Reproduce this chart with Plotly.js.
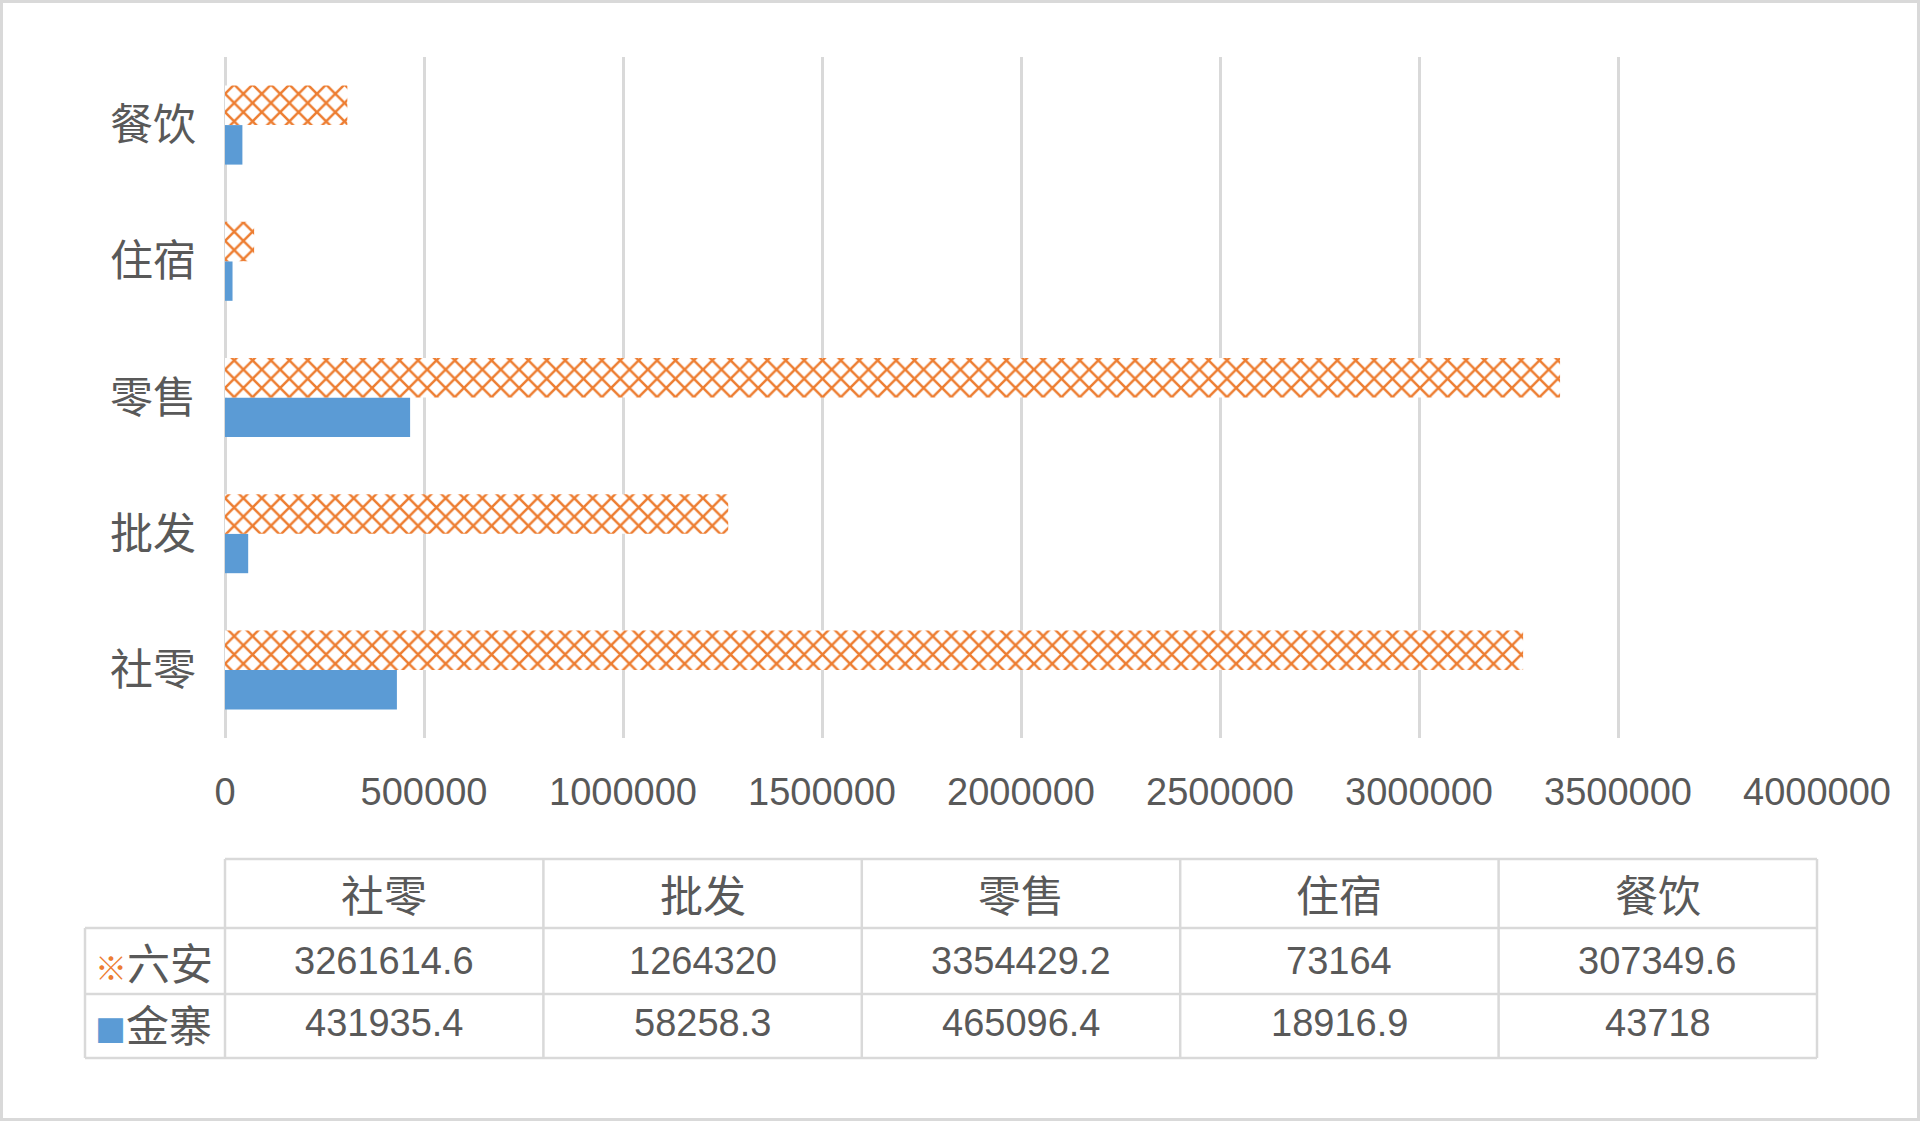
<!DOCTYPE html>
<html>
<head>
<meta charset="utf-8">
<script src="https://cdn.plot.ly/plotly-3.0.1.min.js"></script>
<style>
  html, body { margin: 0; padding: 0; background: #fff; }
  #chart { width: 1920px; height: 1121px; }
</style>
</head>
<body>
<div id="chart"></div>
<script>
'use strict';

/* ---------- data ---------- */
var categories = ['社零', '批发', '零售', '住宿', '餐饮'];
var liuan      = [3261614.6, 1264320, 3354429.2, 73164, 307349.6];
var jinzhai    = [431935.4, 58258.3, 465096.4, 18916.9, 43718];
var xTicks     = [0, 500000, 1000000, 1500000, 2000000, 2500000, 3000000, 3500000, 4000000];

/* ---------- look ---------- */
var ORANGE = '#ED7D31';
var BLUE   = '#5B9BD5';
var GRID   = '#d9d9d9';
var TEXT   = '#595959';
var NUM_FONT = 'Liberation Sans, Arial, sans-serif';
var CJK_FONT = 'Noto Sans CJK SC, sans-serif';
var W = 1920, H = 1121;

/* pixel -> paper (margins are zero, so paper = whole figure) */
function pxX(v) { return v / W; }
function pxY(v) { return 1 - v / H; }

/* plot area and data-table geometry, in pixels */
var PLOT_L = 225, PLOT_R = 1817, PLOT_T = 57, PLOT_B = 738;
var KEY_L  = 85;
var ROW_LINES = [859, 928, 994, 1058];
var ROW_TEXT  = [893, 961, 1023];

var colW = (PLOT_R - PLOT_L) / categories.length;
var colEdges = [];
for (var c = 0; c <= categories.length; c++) colEdges.push(PLOT_L + c * colW);

/* ---------- traces ---------- */
var traces = [
  {
    type: 'bar', orientation: 'h', name: '金寨',
    y: categories, x: jinzhai,
    marker: { color: BLUE, line: { width: 0 } },
    hoverinfo: 'x+name'
  },
  {
    type: 'bar', orientation: 'h', name: '六安',
    y: categories, x: liuan,
    marker: {
      color: '#ffffff',
      line: { width: 0 },
      pattern: { shape: 'x', fgcolor: ORANGE, bgcolor: '#ffffff', size: 13, solidity: 0.35 }
    },
    hoverinfo: 'x+name'
  }
];

/* ---------- data table under the chart (lines + texts) ---------- */
function hLine(y, x0, x1) {
  return { type: 'line', xref: 'paper', yref: 'paper',
           x0: pxX(x0), x1: pxX(x1), y0: pxY(y), y1: pxY(y),
           line: { color: GRID, width: 2.5 } };
}
function vLine(x, y0, y1) {
  return { type: 'line', xref: 'paper', yref: 'paper',
           x0: pxX(x), x1: pxX(x), y0: pxY(y0), y1: pxY(y1),
           line: { color: GRID, width: 2.5 } };
}

var shapes = [{
  type: 'rect', xref: 'paper', yref: 'paper',
  x0: 0, x1: 1, y0: 0, y1: 1,
  line: { color: GRID, width: 6 }
}];
shapes.push(hLine(ROW_LINES[0], PLOT_L, PLOT_R));
for (var r = 1; r < ROW_LINES.length; r++) shapes.push(hLine(ROW_LINES[r], KEY_L, PLOT_R));
shapes.push(vLine(KEY_L, ROW_LINES[1], ROW_LINES[3]));
colEdges.forEach(function (x) { shapes.push(vLine(x, ROW_LINES[0], ROW_LINES[3])); });

var rows = [
  { name: '六安', key: '※', keySize: 32, color: ORANGE, values: liuan },
  { name: '金寨', key: '■', keySize: 31, color: BLUE,   values: jinzhai }
];

var annotations = [];
categories.forEach(function (cat, i) {
  annotations.push({
    xref: 'paper', yref: 'paper',
    x: pxX(colEdges[i] + colW / 2), y: pxY(ROW_TEXT[0]),
    xanchor: 'center', yanchor: 'middle', showarrow: false,
    text: cat, font: { family: CJK_FONT, size: 43, color: TEXT }
  });
});
rows.forEach(function (row, ri) {
  annotations.push({
    xref: 'paper', yref: 'paper',
    x: pxX(93), y: pxY(ROW_TEXT[ri + 1]),
    xanchor: 'left', yanchor: 'middle', showarrow: false,
    text: '<span style="color:' + row.color + ';font-size:' + row.keySize + 'px">' + row.key + '</span>' + row.name,
    font: { family: CJK_FONT, size: 43, color: TEXT }
  });
  row.values.forEach(function (v, i) {
    annotations.push({
      xref: 'paper', yref: 'paper',
      x: pxX(colEdges[i] + colW / 2), y: pxY(ROW_TEXT[ri + 1]),
      xanchor: 'center', yanchor: 'middle', showarrow: false,
      text: String(v), font: { family: NUM_FONT, size: 38, color: TEXT }
    });
  });
});

/* ---------- layout ---------- */
var layout = {
  width: W, height: H,
  margin: { t: 0, r: 0, b: 0, l: 0 },
  paper_bgcolor: '#ffffff', plot_bgcolor: '#ffffff',
  showlegend: false,
  barmode: 'group',
  bargap: 0.42,
  bargroupgap: 0,
  xaxis: {
    domain: [pxX(PLOT_L), pxX(PLOT_R)],
    range: [0, 4000000],
    tickvals: xTicks,
    tickformat: 'd',
    showgrid: true, gridcolor: GRID, gridwidth: 2.5,
    zeroline: true, zerolinecolor: GRID, zerolinewidth: 2.5,
    showline: false, ticks: '',
    ticklabelstandoff: 28,
    tickfont: { family: NUM_FONT, size: 38, color: TEXT }
  },
  yaxis: {
    domain: [pxY(PLOT_B), pxY(PLOT_T)],
    type: 'category',
    showgrid: false, zeroline: false, showline: false, ticks: '',
    ticklabelstandoff: 28,
    tickfont: { family: CJK_FONT, size: 43, color: TEXT }
  },
  shapes: shapes,
  annotations: annotations
};

Plotly.newPlot('chart', traces, layout, { displayModeBar: false, responsive: false });
</script>
</body>
</html>
